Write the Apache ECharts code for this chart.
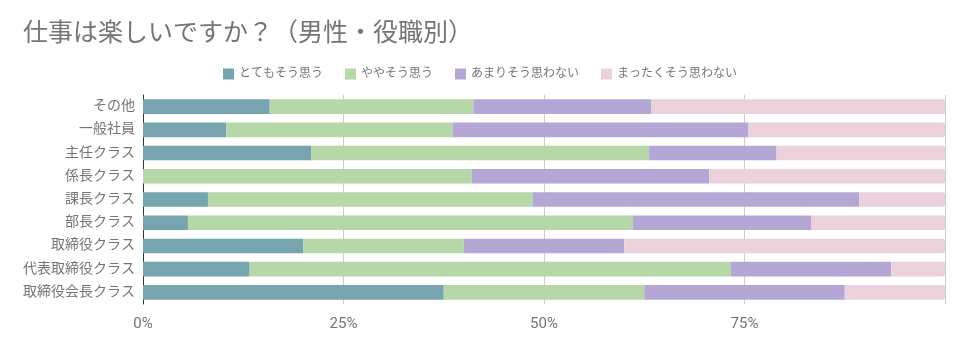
<!DOCTYPE html>
<html>
<head>
	<meta charset="UTF-8" />
	<title>仕事は楽しいですか？（男性・役職別）</title>
	<script src="https://cdn.jsdelivr.net/npm/echarts@6/dist/echarts.min.js"></script>
	<style>
		html, body { margin: 0; padding: 0; background: #fff; }
		#chart { width: 960px; height: 352px; }
	</style>
</head>
<body>
	<div id="chart"></div>
	<script type="text/javascript">
		// 役職（上から順）
		const categories = ["その他", "一般社員", "主任クラス", "係長クラス", "課長クラス", "部長クラス", "取締役クラス", "代表取締役クラス", "取締役会長クラス"];
		const seriesNames = ["とてもそう思う", "ややそう思う", "あまりそう思わない", "まったくそう思わない"];
		// 割合（%）
		const veryMuch = [15.8, 10.4, 21.0, 0, 8.1, 5.6, 20.0, 13.3, 37.5];
		const somewhat = [25.4, 28.2, 42.1, 41.0, 40.5, 55.5, 20.0, 60.0, 25.0];
		const notMuch = [22.2, 36.9, 15.9, 29.6, 40.7, 22.2, 20.0, 20.0, 25.0];
		const notAtAll = [36.6, 24.5, 21.0, 29.4, 10.7, 16.7, 40.0, 6.7, 12.5];
		const colors = ["#76a5af", "#b6d7a8", "#b4a7d6", "#ead1dc"];

		const chart = echarts.init(document.getElementById("chart"));
		const font = 'Roboto, "Noto Sans CJK JP", sans-serif';
		const values = [veryMuch, somewhat, notMuch, notAtAll];

		chart.setOption({
			animation: false,
			textStyle: { fontFamily: font },
			title: {
				text: "仕事は楽しいですか？（男性・役職別）",
				left: 18, top: 17,
				textStyle: { fontSize: 25, fontWeight: "normal", color: "#757575", fontFamily: font }
			},
			legend: {
				top: 63, left: "center",
				itemWidth: 11, itemHeight: 11, itemGap: 22, itemTextGap: 6,
				icon: "rect",
				textStyle: { fontSize: 12, color: "#757575" },
				data: seriesNames
			},
			grid: { left: 143, right: 15, top: 95, bottom: 48 },
			xAxis: {
				type: "value", min: 0, max: 100, interval: 25,
				axisLine: { show: false }, axisTick: { show: false },
				axisLabel: { formatter: "{value}%", color: "#757575", fontSize: 15, margin: 13, showMaxLabel: false },
				splitLine: { lineStyle: { color: "#cccccc" } }
			},
			yAxis: {
				type: "category", inverse: true, data: categories,
				axisLine: { lineStyle: { color: "#333333" } },
				axisTick: { show: false },
				axisLabel: { color: "#757575", fontSize: 14, margin: 8 }
			},
			series: seriesNames.map((name, i) => ({
				name: name, type: "bar", stack: "total",
				barCategoryGap: "37%",
				itemStyle: { color: colors[i], borderRadius: i === 3 ? [0, 2, 2, 0] : 0 },
				data: values[i]
			}))
		});
	</script>
</body>
</html>
